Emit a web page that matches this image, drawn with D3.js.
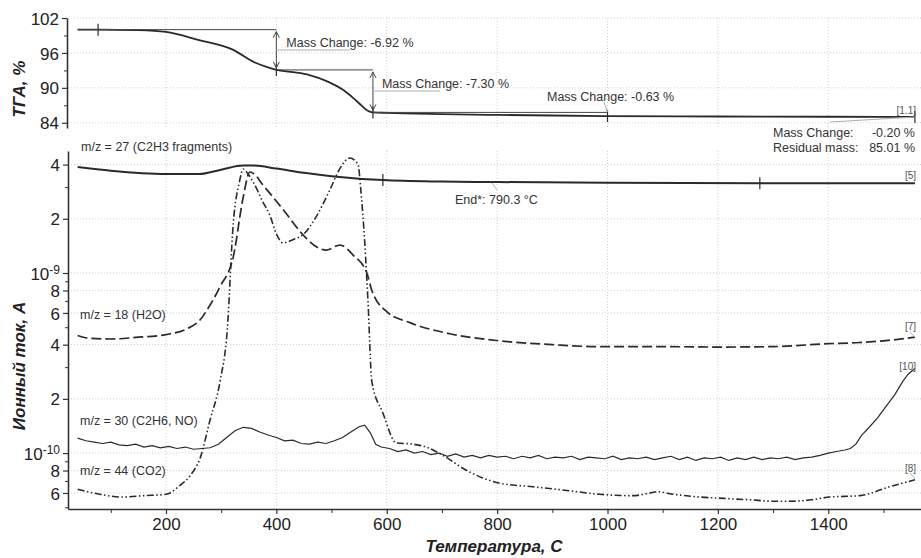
<!DOCTYPE html>
<html>
<head>
<meta charset="utf-8">
<script src="https://cdnjs.cloudflare.com/ajax/libs/d3/7.8.5/d3.min.js"></script>
<style>
    body {
        margin: 0;
        background: #fff;
        font-family: "Liberation Sans", Arial, sans-serif;
    }
</style>
</head>
<body>
<svg id="chart" width="921" height="558"></svg>
<script>
// ---- data (temperatures in C) ----
const tgaTemp = [40, 77, 150, 200, 260, 320, 360, 385, 400, 430, 460, 490, 520, 540, 555, 565, 575, 600, 700, 800, 900, 1000, 1200, 1400, 1557];
const tgaMass = [100.0, 100.0, 99.9, 99.6, 98.2, 96.6, 94.4, 93.5, 93.08, 92.7, 92.2, 91.2, 89.7, 88.2, 86.9, 86.1, 85.78, 85.7, 85.5, 85.35, 85.25, 85.15, 85.08, 85.03, 85.01];

// ion currents, units of 1e-10 A
const mz27Temp = [40, 100, 200, 260, 300, 340, 360, 400, 450, 500, 593, 700, 800, 1000, 1280, 1557];
const mz27Val = [38.8, 37.0, 35.5, 35.5, 37.5, 39.5, 39.5, 38.0, 36.0, 34.5, 32.8, 32.2, 32.0, 31.7, 31.5, 31.5];

const mz18Temp = [40, 60, 100, 150, 200, 238, 262, 274, 298, 322, 340, 352, 360, 375, 394, 420, 443, 474, 490, 515, 540, 564, 573, 600, 642, 714, 805, 900, 986, 1100, 1200, 1300, 1400, 1450, 1500, 1557];
const mz18Val = [4.5, 4.35, 4.3, 4.4, 4.55, 4.9, 5.5, 6.2, 8.4, 12.3, 26.4, 36.4, 35.5, 31, 26.4, 21, 17, 13.9, 13.4, 14.3, 12.5, 10, 8, 6.1, 5.3, 4.6, 4.2, 4.0, 3.9, 3.9, 3.88, 3.9, 4.05, 4.1, 4.2, 4.4];

const mz44Temp = [40, 80, 120, 160, 200, 225, 244, 262, 280, 298, 311, 322, 333, 340, 350, 361, 375, 388, 400, 412, 430, 450, 472, 497, 515, 533, 548, 553, 560, 566, 573, 593, 617, 648, 672, 702, 745, 805, 865, 926, 986, 1046, 1077, 1089, 1120, 1167, 1210, 1258, 1300, 1330, 1370, 1403, 1457, 1511, 1557];
const mz44Val = [0.63, 0.59, 0.57, 0.58, 0.59, 0.66, 0.75, 0.94, 1.53, 2.5, 4.8, 19, 32, 37.8, 35, 30.8, 25, 21, 16.5, 14.7, 15.3, 16.5, 20.5, 29, 38, 43.5, 40, 29, 15, 7, 2.5, 1.67, 1.14, 1.12, 1.08, 0.97, 0.8, 0.68, 0.65, 0.62, 0.59, 0.58, 0.60, 0.61, 0.59, 0.57, 0.56, 0.55, 0.54, 0.54, 0.55, 0.57, 0.58, 0.65, 0.71];

const mz30Temp = [40, 55, 70, 85, 100, 115, 130, 145, 160, 175, 190, 205, 220, 235, 250, 265, 280, 295, 310, 325, 340, 355, 370, 385, 400, 415, 430, 445, 460, 475, 490, 505, 520, 535, 550, 560, 570, 580, 590, 605, 620, 635, 650, 665, 680, 695, 710, 725, 740, 755, 770, 785, 800, 815, 830, 845, 860, 875, 890, 905, 920, 935, 950, 965, 980, 995, 1010, 1025, 1040, 1055, 1070, 1085, 1100, 1115, 1130, 1145, 1160, 1175, 1190, 1205, 1220, 1235, 1250, 1265, 1280, 1295, 1310, 1325, 1340, 1355, 1370, 1385, 1400, 1415, 1430, 1440, 1450, 1460, 1475, 1490, 1505, 1520, 1535, 1545, 1557];
const mz30Val = [1.21, 1.17, 1.15, 1.13, 1.15, 1.11, 1.10, 1.12, 1.08, 1.10, 1.07, 1.09, 1.06, 1.08, 1.05, 1.06, 1.07, 1.12, 1.22, 1.33, 1.39, 1.37, 1.31, 1.26, 1.22, 1.17, 1.18, 1.13, 1.12, 1.15, 1.13, 1.17, 1.22, 1.31, 1.40, 1.43, 1.30, 1.12, 1.08, 1.06, 1.02, 1.04, 1.00, 1.02, 0.98, 1.00, 0.96, 0.99, 0.95, 0.97, 0.94, 0.97, 0.95, 0.96, 0.93, 0.96, 0.94, 0.97, 0.93, 0.95, 0.94, 0.96, 0.92, 0.95, 0.94, 0.93, 0.96, 0.92, 0.94, 0.93, 0.95, 0.92, 0.94, 0.96, 0.92, 0.95, 0.91, 0.94, 0.93, 0.95, 0.91, 0.94, 0.92, 0.95, 0.92, 0.94, 0.93, 0.95, 0.92, 0.94, 0.95, 0.97, 1.00, 1.02, 1.04, 1.06, 1.12, 1.25, 1.40, 1.58, 1.82, 2.10, 2.50, 2.75, 2.95];

const xTicks = [200, 400, 600, 800, 1000, 1200, 1400];
const xMinor = [100, 300, 500, 700, 900, 1100, 1300, 1500];
const tgaTicks = [84, 90, 96, 102];
const tgaMinor = [87, 93, 99];
const ionTicks = [6e-11, 8e-11, 1e-10, 2e-10, 4e-10, 6e-10, 8e-10, 1e-9, 2e-9, 4e-9];
const ionMinor = [5e-11, 7e-11, 9e-11, 3e-10, 5e-10, 7e-10, 9e-10, 3e-9];

// temperatures of the step marks on the TGA and m/z 27 curves
const tgaMarks = [77, 400, 575, 1000, 1557];
const mz27Marks = [593, 1276];

const svg = d3.select("#chart");
const ink = "#2a2a2a";

const x = d3.scaleLinear().domain([22.5, 1568]).range([68, 921]);
const yT = d3.scaleLinear().domain([83.1, 102]).range([128, 18]);
const yI = d3.scaleLog().domain([4.89e-11, 4.76e-9]).range([509, 151]);

// grid
const grid = svg.append("g").attr("stroke", "#cfcfcf").attr("stroke-dasharray", "1,2").attr("stroke-width", 1);
xTicks.forEach(t => {
    grid.append("line").attr("x1", x(t)).attr("x2", x(t)).attr("y1", 18).attr("y2", 128);
    grid.append("line").attr("x1", x(t)).attr("x2", x(t)).attr("y1", 151).attr("y2", 509);
});
tgaTicks.forEach(v => grid.append("line").attr("x1", 68).attr("x2", 921).attr("y1", yT(v)).attr("y2", yT(v)));
ionTicks.forEach(v => grid.append("line").attr("x1", 68).attr("x2", 921).attr("y1", yI(v)).attr("y2", yI(v)));

// axes
function styleAxis(g) {
    g.select(".domain").attr("stroke", "#333").attr("stroke-width", 1.6);
    g.selectAll(".tick line").attr("stroke", "#333").attr("stroke-width", 1.2);
    g.selectAll(".tick text").attr("fill", "#222").style("font-size", "17px")
        .style("font-family", "'Liberation Sans', Arial, sans-serif");
}

const axT = svg.append("g").attr("transform", "translate(67,0)")
    .call(d3.axisLeft(yT).tickValues(tgaTicks).tickSize(5).tickPadding(3).tickSizeOuter(0));
styleAxis(axT);
axT.selectAll(".tick text").attr("dy", "0.36em");
svg.append("g").attr("transform", "translate(67,0)")
    .call(d3.axisLeft(yT).tickValues(tgaMinor).tickSize(3).tickFormat("").tickSizeOuter(0))
    .call(g => g.select(".domain").remove())
    .selectAll("line").attr("stroke", "#333");

const axI = svg.append("g").attr("transform", "translate(68,0)")
    .call(d3.axisLeft(yI).tickValues(ionTicks).tickSize(5).tickPadding(3).tickSizeOuter(0)
        .tickFormat(d => {
            const e = Math.floor(Math.log10(d) + 1e-9);
            return Math.abs(d / Math.pow(10, e) - 1) < 1e-6 ? "10" : String(Math.round(d / Math.pow(10, e)));
        }));
styleAxis(axI);
axI.selectAll(".tick text").attr("dy", "0.36em").each(function (d) {
    const e = Math.floor(Math.log10(d) + 1e-9);
    if (Math.abs(d / Math.pow(10, e) - 1) < 1e-6) {
        d3.select(this).append("tspan").attr("dy", "-0.45em").style("font-size", "12px").text(String(e));
    }
});
svg.append("g").attr("transform", "translate(68,0)")
    .call(d3.axisLeft(yI).tickValues(ionMinor).tickSize(3).tickFormat("").tickSizeOuter(0))
    .call(g => g.select(".domain").remove())
    .selectAll("line").attr("stroke", "#333");

const axX = svg.append("g").attr("transform", "translate(0,509)")
    .call(d3.axisBottom(x).tickValues(xTicks).tickFormat(d3.format("d")).tickSize(5).tickPadding(4).tickSizeOuter(0));
styleAxis(axX);
svg.append("g").attr("transform", "translate(0,509)")
    .call(d3.axisBottom(x).tickValues(xMinor).tickSize(4).tickFormat("").tickSizeOuter(0))
    .call(g => g.select(".domain").remove())
    .selectAll("line").attr("stroke", "#333");

// axis titles
const titleStyle = t => t.attr("fill", "#222").style("font-size", "17px").style("font-weight", "bold")
    .style("font-style", "italic").attr("text-anchor", "middle");
svg.append("text").attr("transform", "translate(25,89) rotate(-90)").text("ТГА, %").call(titleStyle);
svg.append("text").attr("transform", "translate(25,366) rotate(-90)").text("Ионный ток, А").call(titleStyle);
svg.append("text").attr("x", 494).attr("y", 552).text("Температура, С").call(titleStyle);

// curves
const zip = (ts, vs) => ts.map((t, i) => [t, vs[i]]);
const lineT = d3.line().x(d => x(d[0])).y(d => yT(d[1])).curve(d3.curveMonotoneX);
const lineI = d3.line().x(d => x(d[0])).y(d => yI(d[1] * 1e-10)).curve(d3.curveMonotoneX);
const lineIraw = d3.line().x(d => x(d[0])).y(d => yI(d[1] * 1e-10));

const curves = svg.append("g").attr("fill", "none").attr("stroke", ink);
curves.append("path").attr("d", lineT(zip(tgaTemp, tgaMass))).attr("stroke-width", 1.8);
curves.append("path").attr("d", lineI(zip(mz27Temp, mz27Val))).attr("stroke-width", 2);
curves.append("path").attr("d", lineI(zip(mz18Temp, mz18Val))).attr("stroke-width", 1.7)
    .attr("stroke-dasharray", "10,4");
curves.append("path").attr("d", lineI(zip(mz44Temp, mz44Val))).attr("stroke-width", 1.6)
    .attr("stroke-dasharray", "7,2.5,1.5,2.5,1.5,2.5");
curves.append("path").attr("d", lineIraw(zip(mz30Temp, mz30Val))).attr("stroke-width", 1.2);

// step marks
const tgaAt = t => d3.scaleLinear().domain(tgaTemp).range(tgaMass)(t);
const marks = svg.append("g").attr("stroke", ink).attr("stroke-width", 1.2);
tgaMarks.forEach(t => marks.append("line").attr("x1", x(t)).attr("x2", x(t))
    .attr("y1", yT(tgaAt(t)) - 6).attr("y2", yT(tgaAt(t)) + 6));
const mz27At = t => d3.scaleLinear().domain(mz27Temp).range(mz27Val)(t) * 1e-10;
mz27Marks.forEach(t => marks.append("line").attr("x1", x(t)).attr("x2", x(t))
    .attr("y1", yI(mz27At(t)) - 6).attr("y2", yI(mz27At(t)) + 6));

// reference levels and arrows
const ann = svg.append("g").attr("stroke", "#444").attr("stroke-width", 1).attr("fill", "none");
function hline(t1, t2, v) {
    ann.append("line").attr("x1", x(t1)).attr("x2", x(t2)).attr("y1", yT(v)).attr("y2", yT(v));
}
function arrow(t, v1, v2) {
    const xa = x(t), ya = yT(v1) + 2, yb = yT(v2) - 2;
    ann.append("line").attr("x1", xa).attr("x2", xa).attr("y1", ya).attr("y2", yb);
    ann.append("path").attr("d", `M${xa - 3},${ya + 6}L${xa},${ya}L${xa + 3},${ya + 6}`);
    ann.append("path").attr("d", `M${xa - 3},${yb - 6}L${xa},${yb}L${xa + 3},${yb - 6}`);
}
hline(40, 400, 100.0);
arrow(400, 100.0, 93.08);
hline(400, 575, 93.08);
arrow(575, 93.08, 85.78);
hline(575, 1000, 85.78);

const lead = svg.append("g").attr("stroke", "#b0b0b0").attr("stroke-width", 1);
lead.append("line").attr("x1", x(400)).attr("x2", 350).attr("y1", 50).attr("y2", 50);
lead.append("line").attr("x1", x(575)).attr("x2", 440).attr("y1", 91).attr("y2", 91);
lead.append("line").attr("x1", 604).attr("x2", x(1000)).attr("y1", 102).attr("y2", 112);
lead.append("line").attr("x1", 830).attr("x2", 915).attr("y1", 122).attr("y2", 117);
lead.append("line").attr("x1", 492).attr("x2", 497).attr("y1", 183).attr("y2", 190);
lead.append("line").attr("x1", 910).attr("x2", 915).attr("y1", 332).attr("y2", 337);
lead.append("line").attr("x1", 910).attr("x2", 915).attr("y1", 473).attr("y2", 479);

// annotation text
const txt = (xx, yy, s, anchor) => svg.append("text").attr("x", xx).attr("y", yy).text(s)
    .attr("fill", "#333").style("font-size", "12.5px").attr("text-anchor", anchor || "start");
txt(x(400) + 10, 47, "Mass Change: -6.92 %");
txt(x(575) + 9, 88, "Mass Change: -7.30 %");
txt(547, 101, "Mass Change: -0.63 %");
txt(773, 137, "Mass Change:");
txt(915, 137, "-0.20 %", "end");
txt(773, 152, "Residual mass:");
txt(915, 152, "85.01 %", "end");
txt(455, 204, "End*: 790.3 °C");
txt(81, 151, "m/z = 27 (C2H3 fragments)");
txt(80, 319, "m/z = 18 (H2O)");
txt(80, 425, "m/z = 30 (C2H6, NO)");
txt(80, 475, "m/z = 44 (CO2)");

const small = (yy, s) => svg.append("text").attr("x", 916).attr("y", yy).text(s)
    .attr("text-anchor", "end").attr("fill", "#555").style("font-size", "10px");
small(114, "[1.1]");
small(179, "[5]");
small(330, "[7]");
small(370, "[10]");
small(472, "[8]");
</script>
</body>
</html>
